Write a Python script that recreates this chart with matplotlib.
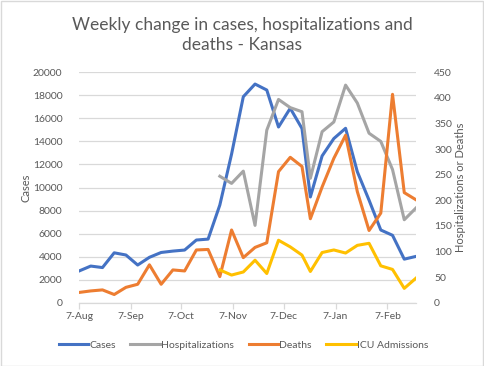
import datetime as dt
import matplotlib
matplotlib.use("Agg")
import matplotlib.pyplot as plt
import matplotlib.dates as mdates
from matplotlib.patches import Rectangle
import numpy as np

# ---- data ----
dates_a = [dt.date(2020, 8, 7) + dt.timedelta(days=7 * i) for i in range(20)]
dates_b = [dt.date(2020, 12, 23) + dt.timedelta(days=7 * i) for i in range(10)]
dates = dates_a + dates_b

cases = [2750, 3180, 3050, 4330, 4140, 3270, 3940, 4360, 4480, 4570,
         5440, 5520, 8480, 12900, 17880, 18980, 18460, 15250, 16880, 15120,
         9180, 12740, 14250, 15140, 11370, 8900, 6310, 5850, 3780, 4020]
hosp = [None] * 12 + [247, 233, 257, 151, 337, 397, 381, 373,
                      243, 334, 353, 425, 390, 331, 315, 260, 162, 185]
deaths = [20, 23, 25, 16, 30, 36, 74, 36, 64, 62,
          103, 104, 51, 142, 88, 108, 117, 256, 284, 266,
          164, 226, 282, 327, 217, 141, 175, 407, 215, 201]
icu = [None] * 12 + [64, 54, 60, 83, 57, 122, 109, 93,
                     61, 98, 103, 97, 112, 116, 72, 65, 28, 48]

tick_dates = [dt.date(2020, 8, 7), dt.date(2020, 9, 7), dt.date(2020, 10, 7),
              dt.date(2020, 11, 7), dt.date(2020, 12, 7), dt.date(2021, 1, 7),
              dt.date(2021, 2, 7)]
tick_labels = ["7-Aug", "7-Sep", "7-Oct", "7-Nov", "7-Dec", "7-Jan", "7-Feb"]

title = "Weekly change in cases, hospitalizations and\ndeaths - Kansas"

# ---- style ----
plt.rcParams['font.family'] = ['Lato', 'DejaVu Sans']
TXT = '#595959'
GRID = '#D9D9D9'
C_BLUE, C_GRAY, C_ORANGE, C_YELLOW = '#4472C4', '#A5A5A5', '#ED7D31', '#FFC000'
LW = 2.2

W, H = 484, 366
fig = plt.figure(figsize=(W / 100, H / 100), dpi=100)
fig.patches.append(Rectangle((0.5 / W, 0.5 / H), 1 - 1.5 / W, 1 - 1.5 / H,
                             transform=fig.transFigure, fill=False,
                             edgecolor=GRID, linewidth=1))

left, right, top, bottom = 79, 416, 72.3, 302.7
ax = fig.add_axes([left / W, 1 - bottom / H, (right - left) / W, (bottom - top) / H])
ax2 = ax.twinx()

def arr(v):
    return np.array([np.nan if x is None else x for x in v], dtype=float)

dn = mdates.date2num(dates)
l1, = ax.plot(dn, cases, color=C_BLUE, lw=LW, solid_joinstyle='round', label='Cases')
l2, = ax2.plot(dn, arr(hosp), color=C_GRAY, lw=LW, solid_joinstyle='round', label='Hospitalizations')
l3, = ax2.plot(dn, deaths, color=C_ORANGE, lw=LW, solid_joinstyle='round', label='Deaths')
l4, = ax2.plot(dn, arr(icu), color=C_YELLOW, lw=LW, solid_joinstyle='round', label='ICU Admissions')

ax.set_xlim(dn[0], dn[-1])
ax.set_ylim(0, 20000)
ax2.set_ylim(0, 450)
ax.set_yticks(np.arange(0, 20001, 2000))
ax2.set_yticks(np.arange(0, 451, 50))
ax.set_xticks(mdates.date2num(tick_dates))
ax.set_xticklabels(tick_labels)

ax.grid(axis='y', color=GRID, lw=0.9)
ax.set_axisbelow(True)
for a in (ax, ax2):
    for s in ('left', 'right', 'top', 'bottom'):
        a.spines[s].set_visible(False)
ax.spines['bottom'].set_visible(True)
ax.spines['bottom'].set_color(GRID)
ax.spines['bottom'].set_linewidth(0.9)

ax.tick_params(axis='y', length=0, pad=12, labelsize=7.5, labelcolor=TXT)
ax2.tick_params(axis='y', length=0, pad=13, labelsize=7.5, labelcolor=TXT)
ax.tick_params(axis='x', length=4, width=0.9, color=GRID, pad=3, labelsize=7.5, labelcolor=TXT)

ax.set_ylabel('Cases', fontsize=8, color=TXT, labelpad=1)
ax2.set_ylabel('Hospitalizations or Deaths', fontsize=8, color=TXT, labelpad=2.5)

fig.text(0.5, 1 - 35 / H, title, ha='center', va='center', fontsize=12.5,
         color=TXT, linespacing=1.35)

fig.legend(handles=[l1, l2, l3, l4], loc='center',
           bbox_to_anchor=(243.5 / W, 1 - 345 / H), ncol=4, frameon=False,
           fontsize=7.5, labelcolor=TXT, handlelength=2.8, handletextpad=0.15,
           columnspacing=1.4)

fig.savefig('out.png', dpi=100)
